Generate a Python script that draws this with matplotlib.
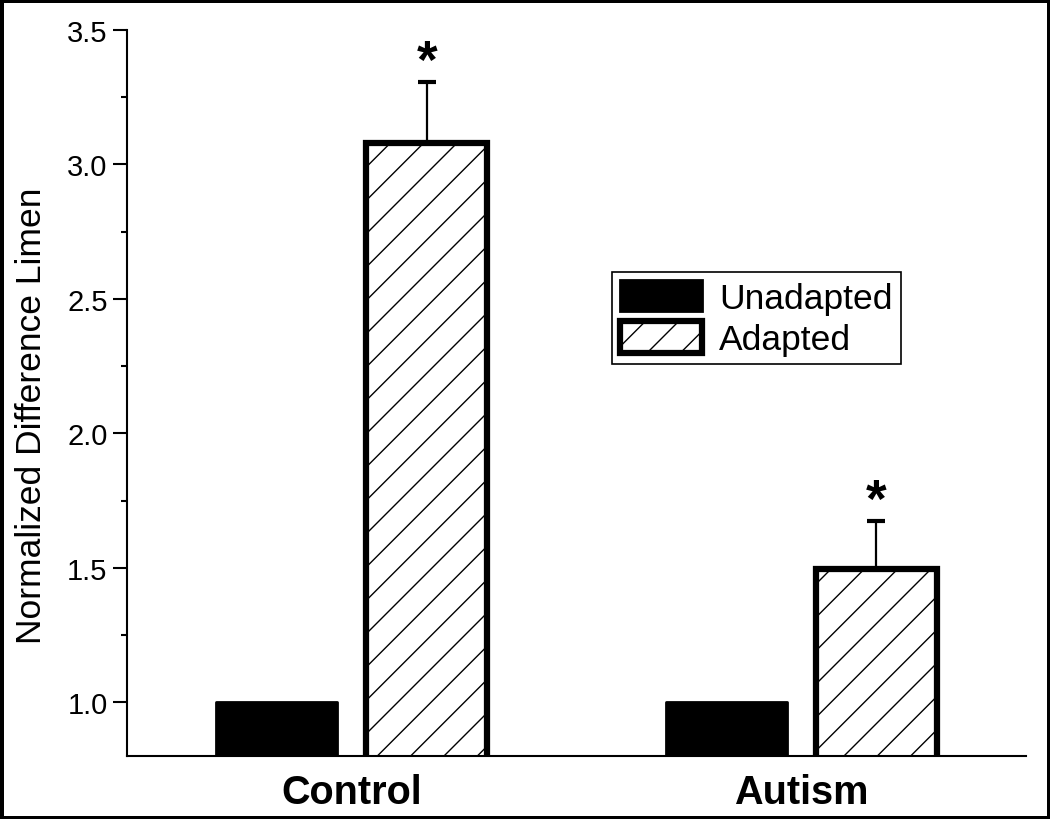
import matplotlib
matplotlib.use("Agg")
import matplotlib.pyplot as plt
import numpy as np
from matplotlib.patches import Patch
from matplotlib.ticker import MultipleLocator

plt.rcParams.update({
    "font.family": ["Liberation Sans", "DejaVu Sans"],
    "hatch.linewidth": 1.0,
})

groups = ["Control", "Autism"]
unadapted = [1.0, 1.0]
adapted = [3.08, 1.495]
adapted_err = [0.225, 0.178]
stars = ["*", "*"]

x = np.arange(len(groups))
width = 0.27
offset = 0.167

fig = plt.figure(figsize=(10.5, 8.2), dpi=100)
ax = fig.add_axes([127 / 1050, 63 / 820, 899 / 1050, 726 / 820])

ax.bar(x - offset, unadapted, width, color="black", edgecolor="black",
       linewidth=2, joinstyle="round", label="Unadapted")
ax.bar(x + offset, adapted, width, color="white", edgecolor="black",
       linewidth=4.5, hatch="/", label="Adapted")
ax.errorbar(x + offset, adapted, yerr=[np.zeros(len(x)), adapted_err],
            fmt="none", ecolor="black", elinewidth=1.6, capsize=6.5, capthick=3)

for xi, yi, ei, s in zip(x + offset, adapted, adapted_err, stars):
    ax.annotate(s, (xi, yi + ei), xytext=(0, 14), textcoords="offset points",
                ha="center", va="center", fontsize=38, fontweight="bold")

ax.set_xlim(-0.5, 1.5)
ax.set_ylim(0.8, 3.5)
ax.yaxis.set_major_locator(MultipleLocator(0.5))
ax.yaxis.set_minor_locator(MultipleLocator(0.25))
ax.set_xticks(x)
ax.set_xticklabels(groups, fontsize=28.5, fontweight="bold")
ax.tick_params(axis="x", length=0, pad=12)
ax.tick_params(axis="y", which="major", length=10, width=1.5, labelsize=21, pad=4)
ax.tick_params(axis="y", which="minor", length=4, width=1.5)
for side in ["top", "right"]:
    ax.spines[side].set_visible(False)
for side in ["left", "bottom"]:
    ax.spines[side].set_linewidth(1.5)
ax.set_ylabel("Normalized Difference Limen", fontsize=25.5)
ax.yaxis.set_label_coords(-0.088, 0.47)

handles = [
    Patch(facecolor="black", edgecolor="black", linewidth=2, joinstyle="round"),
    Patch(facecolor="white", edgecolor="black", linewidth=4.5, hatch="/"),
]
leg = ax.legend(handles, ["Unadapted", "Adapted"], loc="upper left",
                bbox_to_anchor=(0.54, 0.667), fontsize=25.5, fancybox=False,
                frameon=True, edgecolor="black", framealpha=1,
                handlelength=2.3, handleheight=1.0, labelspacing=0.18,
                handletextpad=0.5, borderpad=0.22, borderaxespad=0)
leg.get_frame().set_linewidth(1.2)

fig.patch.set_edgecolor("black")
fig.patch.set_linewidth(5)

fig.savefig("out.png", dpi=100, facecolor="white", edgecolor="black")
